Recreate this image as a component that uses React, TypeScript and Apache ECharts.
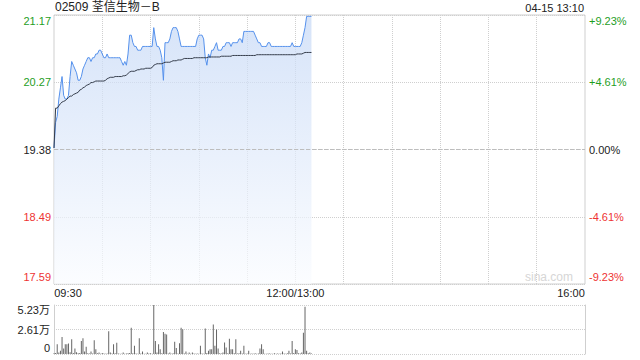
import React, { useEffect, useRef } from "react";
import * as echarts from "echarts";

const TITLE = "02509 荃信生物－B";
const STAMP = "04-15 13:10";
const PREV_CLOSE = 19.38;
const STEP = 0.894; // half of the max deviation shown on the axis

const priceTickLabels = ["17.59", "18.49", "19.38", "20.27", "21.17"];
const pctTickLabels = ["-9.23%", "-4.61%", "0.00%", "+4.61%", "+9.23%"];
const volTickLabels = ["0", "2.61万", "5.23万"];
const VOL_MAX = 52300;

const price = [
  19.40, 19.74, 19.82, 20.05, 20.20, 20.35, 20.10, 20.05, 20.05, 20.10,
  20.35, 20.55, 20.50, 20.45, 20.40, 20.30, 20.30, 20.35, 20.45, 20.50,
  20.55, 20.60, 20.60, 20.55, 20.60, 20.60, 20.65, 20.65, 20.70, 20.70,
  20.65, 20.60, 20.60, 20.65, 20.60, 20.60, 20.60, 20.60, 20.60, 20.60,
  20.60, 20.60, 20.55, 20.50, 20.55, 20.50, 20.65, 20.90, 20.90, 20.80,
  20.75, 20.75, 20.70, 20.70, 20.70, 20.75, 20.75, 20.75, 20.75, 20.75,
  20.75, 20.75, 21.00, 20.85, 20.75, 20.75, 20.70, 20.60, 20.30, 20.80,
  20.80, 20.80, 20.85, 20.95, 21.00, 21.00, 21.00, 20.95, 20.85, 20.75,
  20.75, 20.75, 20.75, 20.75, 20.75, 20.75, 20.75, 20.75, 20.75, 20.85,
  20.90, 20.90, 20.90, 20.85, 20.60, 20.50, 20.65, 20.60, 20.70, 20.70,
  20.75, 20.80, 20.70, 20.70, 20.70, 20.75, 20.75, 20.80, 20.80, 20.80,
  20.75, 20.80, 20.80, 20.80, 20.80, 20.85, 20.85, 20.80, 20.95, 20.95,
  20.95, 20.95, 20.95, 20.95, 20.95, 20.90, 20.85, 20.80, 20.80, 20.75,
  20.75, 20.75, 20.75, 20.80, 20.80, 20.75, 20.75, 20.75, 20.75, 20.75,
  20.75, 20.75, 20.75, 20.75, 20.75, 20.75, 20.75, 20.75, 20.80, 20.75,
  20.75, 20.75, 20.75, 20.75, 20.80, 20.90, 21.00, 21.15, 21.15, 21.15,
  21.15,
];

const avgPrice = [
  19.40, 19.93, 19.93, 19.96, 19.99, 20.01, 20.02, 20.03, 20.05, 20.07,
  20.09, 20.09, 20.11, 20.12, 20.13, 20.14, 20.17, 20.18, 20.20, 20.21,
  20.23, 20.24, 20.25, 20.27, 20.27, 20.28, 20.29, 20.29, 20.29, 20.29,
  20.29, 20.29, 20.30, 20.32, 20.33, 20.34, 20.34, 20.34, 20.35, 20.35,
  20.35, 20.35, 20.35, 20.36, 20.36, 20.37, 20.39, 20.41, 20.42, 20.42,
  20.42, 20.43, 20.44, 20.44, 20.45, 20.45, 20.45, 20.46, 20.46, 20.46,
  20.46, 20.47, 20.50, 20.51, 20.52, 20.52, 20.52, 20.52, 20.53, 20.54,
  20.54, 20.54, 20.54, 20.55, 20.56, 20.56, 20.56, 20.57, 20.57, 20.57,
  20.58, 20.59, 20.59, 20.59, 20.59, 20.59, 20.59, 20.60, 20.60, 20.60,
  20.60, 20.60, 20.60, 20.60, 20.60, 20.60, 20.61, 20.61, 20.61, 20.61,
  20.61, 20.61, 20.61, 20.61, 20.62, 20.62, 20.62, 20.62, 20.62, 20.62,
  20.62, 20.63, 20.63, 20.63, 20.63, 20.63, 20.63, 20.63, 20.63, 20.63,
  20.63, 20.63, 20.63, 20.63, 20.63, 20.63, 20.64, 20.64, 20.64, 20.64,
  20.64, 20.64, 20.64, 20.64, 20.64, 20.64, 20.64, 20.64, 20.64, 20.64,
  20.64, 20.64, 20.64, 20.64, 20.64, 20.64, 20.64, 20.64, 20.64, 20.64,
  20.64, 20.65, 20.65, 20.65, 20.65, 20.66, 20.67, 20.67, 20.67, 20.67,
  20.67,
];

const volume = [
  800, 1200, 10500, 1500, 3500, 18100, 6000, 10500, 10500, 11200,
  2000, 15700, 1000, 6000, 1800, 700, 1200, 14000, 16700, 2800,
  7700, 900, 600, 2800, 500, 14600, 5200, 800, 1700, 400,
  1000, 600, 300, 500, 24400, 1700, 600, 10500, 700, 11900,
  500, 300, 400, 1700, 300, 500, 800, 1200, 27900, 900,
  8700, 600, 400, 16700, 500, 2800, 400, 300, 1700, 500,
  700, 400, 52300, 13900, 1500, 10500, 5200, 800, 23400, 21600,
  20900, 600, 1700, 400, 700, 13200, 6300, 500, 11500, 27900,
  26500, 600, 2800, 400, 1700, 300, 1700, 500, 400, 600,
  300, 8700, 500, 400, 27200, 1200, 3500, 5200, 5200, 31400,
  8700, 26100, 5900, 900, 600, 1500, 12200, 7000, 900, 16400,
  5200, 5200, 700, 15700, 600, 900, 3500, 500, 8700, 400,
  600, 3500, 300, 500, 400, 700, 300, 600, 5900, 10500,
  5200, 400, 300, 600, 500, 300, 400, 700, 300, 500,
  400, 600, 2800, 500, 300, 800, 3500, 600, 13900, 1200,
  5200, 4200, 700, 500, 1500, 22700, 50500, 3500, 800, 1700,
  600,
];

// trading minutes 09:30-12:00, 13:00-16:00 (lunch merged)
function buildTimes(): string[] {
  const out: string[] = [];
  const pad = (n: number) => (n < 10 ? "0" + n : "" + n);
  for (let m = 0; m <= 330; m++) {
    if (m === 150) {
      out.push("12:00/13:00");
      continue;
    }
    const t = m < 150 ? 9 * 60 + 30 + m : 13 * 60 + (m - 150);
    out.push(pad(Math.floor(t / 60)) + ":" + pad(t % 60));
  }
  return out;
}
const times = buildTimes();

const FONT = '"Liberation Sans", Arial, "Noto Sans CJK SC", sans-serif';
const GREEN = "#1f9e1f";
const RED = "#ee3333";
const TXT = "#222";
const GRID_C = "#cfcfcf";

export default function App() {
  const ref = useRef<HTMLDivElement>(null);
  useEffect(() => {
    if (!ref.current) return;
    const chart = echarts.init(ref.current, undefined, { renderer: "svg" });
    const dev = (arr: number[]) => arr.map((p) => +(p - PREV_CLOSE).toFixed(4));
    const lab = { fontSize: 11, fontFamily: FONT };
    const labRich = {
      tg: { ...lab, color: GREEN, padding: [11, 0, 0, 0] },
      g: { ...lab, color: GREEN },
      n: { ...lab, color: TXT },
      r: { ...lab, color: RED },
      br: { ...lab, color: RED, padding: [0, 0, 14, 0] },
      tn: { ...lab, color: TXT, padding: [10, 0, 0, 0] },
      bn: { ...lab, color: TXT, padding: [0, 0, 12, 0] },
    };
    const styleKeys = ["br", "r", "n", "g", "tg"];
    chart.setOption({
      animation: false,
      title: [
        {
          text: TITLE,
          left: 55,
          top: 1,
          padding: 0,
          textStyle: { fontSize: 12, fontWeight: "normal", color: TXT, fontFamily: FONT },
        },
        {
          text: STAMP,
          right: 56,
          top: 2,
          padding: 0,
          textStyle: { fontSize: 11, fontWeight: "normal", color: TXT, fontFamily: FONT },
        },
      ],
      graphic: [
        {
          type: "text",
          right: 67,
          top: 271,
          style: { text: "sina.com", fill: "#d6d6d6", font: "12px " + FONT },
        },
      ],
      grid: [
        { left: 54, right: 55, top: 15, height: 269, show: true, borderColor: GRID_C, borderWidth: 1, backgroundColor: "transparent" },
        { left: 54, right: 55, top: 305, height: 49, show: false },
      ],
      xAxis: [
        {
          type: "category",
          gridIndex: 0,
          data: times,
          boundaryGap: false,
          axisLine: { show: false },
          axisTick: { show: false },
          axisLabel: {
            interval: (i: number) => i === 0 || i === 150 || i === 330,
            margin: 3,
            formatter: (v: string, i: number) =>
              i === 0 ? `{l|${v}}` : i === 330 ? `{r|${v}}` : `{c|${v}}`,
            rich: {
              l: { ...lab, color: TXT, padding: [0, 0, 0, 28] },
              r: { ...lab, color: TXT, padding: [0, 28, 0, 0] },
              c: { ...lab, color: TXT },
            },
          },
          splitLine: {
            show: true,
            interval: (i: number) => i % 30 === 0 && i !== 0 && i !== 330,
            lineStyle: { color: GRID_C, type: "dotted", width: 1 },
          },
        },
        {
          type: "category",
          gridIndex: 1,
          data: times,
          boundaryGap: false,
          axisLine: { show: false },
          axisTick: { show: false },
          axisLabel: { show: false },
          splitLine: { show: false },
        },
      ],
      yAxis: [
        {
          type: "value",
          gridIndex: 0,
          min: -2 * STEP,
          max: 2 * STEP,
          interval: STEP,
          axisLine: { show: false },
          axisTick: { show: false },
          axisLabel: {
            margin: 3,
            formatter: (_v: number, i: number) => `{${styleKeys[i]}|${priceTickLabels[i]}}`,
            rich: labRich,
          },
          splitLine: { show: true, lineStyle: { color: GRID_C, type: "dotted", width: 1 } },
        },
        {
          type: "value",
          gridIndex: 0,
          position: "right",
          min: -2 * STEP,
          max: 2 * STEP,
          interval: STEP,
          axisLine: { show: false },
          axisTick: { show: false },
          axisLabel: {
            margin: 4,
            formatter: (_v: number, i: number) => `{${styleKeys[i]}|${pctTickLabels[i]}}`,
            rich: labRich,
          },
          splitLine: { show: false },
        },
        {
          type: "value",
          gridIndex: 1,
          min: 0,
          max: VOL_MAX,
          interval: VOL_MAX / 2,
          axisLine: { show: true, lineStyle: { color: GRID_C, width: 1 } },
          axisTick: { show: false },
          axisLabel: {
            margin: 4,
            formatter: (_v: number, i: number) =>
              `{${i === 0 ? "bn" : i === 2 ? "tn" : "n"}|${volTickLabels[i]}}`,
            rich: labRich,
          },
          splitLine: { show: true, lineStyle: { color: GRID_C, type: "dotted", width: 1 } },
        },
        {
          type: "value",
          gridIndex: 1,
          position: "right",
          min: 0,
          max: VOL_MAX,
          interval: VOL_MAX / 2,
          axisLine: { show: true, lineStyle: { color: GRID_C, width: 1 } },
          axisTick: { show: false },
          axisLabel: { show: false },
          splitLine: { show: false },
        },
      ],
      series: [
        {
          type: "line",
          name: "price",
          xAxisIndex: 0,
          yAxisIndex: 0,
          data: dev(price),
          showSymbol: false,
          symbol: "none",
          lineStyle: { color: "#5591ec", width: 1 },
          areaStyle: {
            origin: "start",
            color: new echarts.graphic.LinearGradient(0, 0, 0, 1, [
              { offset: 0, color: "#c5d8f6" },
              { offset: 1, color: "#fafcff" },
            ]),
          },
          markLine: {
            silent: true,
            symbol: "none",
            label: { show: false },
            lineStyle: { color: "#bdbdbd", type: "dashed", width: 1 },
            data: [{ yAxis: 0 }],
          },
          z: 3,
        },
        {
          type: "line",
          name: "avg",
          xAxisIndex: 0,
          yAxisIndex: 0,
          data: dev(avgPrice),
          showSymbol: false,
          symbol: "none",
          lineStyle: { color: "#353d4b", width: 1 },
          z: 4,
        },
        {
          type: "bar",
          name: "volume",
          xAxisIndex: 1,
          yAxisIndex: 2,
          data: volume,
          barWidth: 1,
          itemStyle: { color: "#666" },
        },
      ],
    });
    return () => chart.dispose();
  }, []);
  return (
    <div
      ref={ref}
      style={{ position: "fixed", left: 0, top: 0, width: 640, height: 360, background: "#fff" }}
    />
  );
}
